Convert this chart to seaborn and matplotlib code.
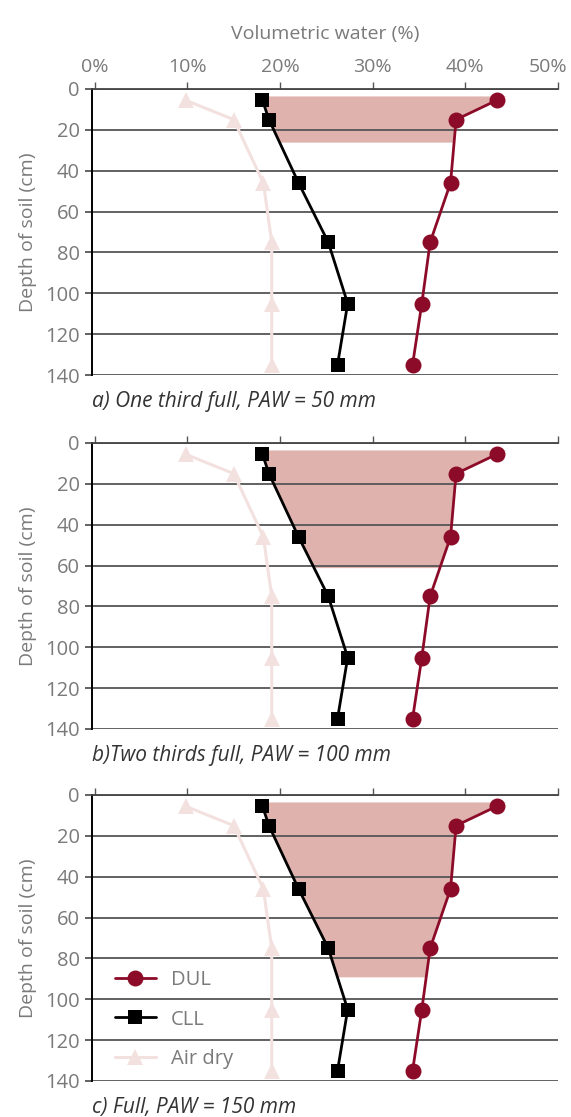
import numpy as np
import pandas as pd
import matplotlib
matplotlib.use("Agg")
import matplotlib.pyplot as plt
import matplotlib.transforms as mtransforms
import seaborn as sns

# soil profile values
depth = [5.5, 15, 46, 75, 105, 135]
dul = [43.4, 39.0, 38.4, 36.2, 35.3, 34.3]
cll = [18.1, 18.8, 22.0, 25.2, 27.3, 26.2]
air_dry = [9.8, 15.0, 18.2, 19.1, 19.1, 19.1]

# plant available water band for each panel
fill_top = 3.4
fill_bottom = [26, 61, 89]
captions = ["a) One third full, PAW = 50 mm",
            "b)Two thirds full, PAW = 100 mm",
            "c) Full, PAW = 150 mm"]

x_ticks = [0, 10, 20, 30, 40, 50]
x_labels = ["0%", "10%", "20%", "30%", "40%", "50%"]
y_ticks = [0, 20, 40, 60, 80, 100, 120, 140]

DUL_COLOR = "#8c0b28"
AIR_COLOR = "#f2e1df"
FILL_COLOR = "#dfb2ae"
GRID_COLOR = "#555555"
TEXT_GRAY = "#7a7a7a"

sns.set_theme(style="white")
plt.rcParams["font.family"] = ["Open Sans", "DejaVu Sans"]


def line_at(d, depths, values):
    """linear interpolation along the profile, extrapolating above the first point"""
    d = np.asarray(d, dtype=float)
    out = np.interp(d, depths, values)
    slope = (values[1] - values[0]) / (depths[1] - depths[0])
    above = d < depths[0]
    out[above] = values[0] + slope * (d[above] - depths[0])
    return out


df = pd.DataFrame({"depth": depth, "DUL": dul, "CLL": cll, "Air dry": air_dry})

fig = plt.figure(figsize=(5.71, 11.17), dpi=100)
lefts = 92 / 571
width = (558 - 92) / 571
panel_tops = [89, 443, 795]
panel_h = 286 / 1117

for i, top in enumerate(panel_tops):
    ax = fig.add_axes([lefts, 1 - top / 1117 - panel_h, width, panel_h])
    ax.set_axisbelow("line")

    dgrid = np.linspace(fill_top, fill_bottom[i], 200)
    ax.fill_betweenx(dgrid, line_at(dgrid, depth, cll), line_at(dgrid, depth, dul),
                     color=FILL_COLOR, lw=0, zorder=1)

    sns.lineplot(data=df, x="DUL", y="depth", sort=False, estimator=None, ax=ax,
                 color=DUL_COLOR, marker="o", markersize=11.5, markeredgewidth=0,
                 linewidth=2, label="DUL", zorder=4)
    sns.lineplot(data=df, x="CLL", y="depth", sort=False, estimator=None, ax=ax,
                 color="black", marker="s", markersize=10, markeredgewidth=0,
                 linewidth=2, label="CLL", zorder=3)
    sns.lineplot(data=df, x="Air dry", y="depth", sort=False, estimator=None, ax=ax,
                 color=AIR_COLOR, marker="^", markersize=12, markeredgewidth=0,
                 linewidth=2.2, label="Air dry", zorder=2)

    ax.set_xlim(-0.3, 50)
    ax.set_ylim(140, 0)
    ax.set_xticks(x_ticks)
    ax.set_yticks(y_ticks)
    ax.xaxis.tick_top()
    ax.grid(axis="y", color=GRID_COLOR, lw=1.3)
    ax.grid(axis="x", visible=False)
    ax.tick_params(axis="x", top=True, bottom=False, direction="out", length=5,
                   width=1, color=GRID_COLOR, labelsize=14, labelcolor=TEXT_GRAY, pad=4)
    ax.tick_params(axis="y", left=True, direction="out", length=5, width=1.3,
                   color=GRID_COLOR, labelsize=14.5, labelcolor=TEXT_GRAY, pad=4)
    if i == 0:
        ax.set_xticklabels(x_labels)
        ax.xaxis.set_label_position("top")
        ax.set_xlabel("Volumetric water (%)", fontsize=14, color=TEXT_GRAY, labelpad=14)
        # pull the last label in so it stays on the canvas
        last = ax.get_xticklabels()[-1]
        last.set_transform(last.get_transform() +
                           mtransforms.ScaledTranslation(-0.1, 0, fig.dpi_scale_trans))
    else:
        ax.set_xticklabels([])
        ax.set_xlabel("")
    ax.set_ylabel("Depth of soil (cm)", fontsize=14, color=TEXT_GRAY, labelpad=6)

    for s in ["right", "bottom"]:
        ax.spines[s].set_visible(False)
    ax.spines["left"].set_color("black")
    ax.spines["left"].set_linewidth(1.4)
    ax.spines["top"].set_color("#444444")
    ax.spines["top"].set_linewidth(1.3)

    if i == 2:
        ax.legend(loc="center left", bbox_to_anchor=(0.05, 0.215), frameon=False,
                  fontsize=14.5, labelcolor=TEXT_GRAY, handlelength=2.0,
                  handletextpad=0.75, labelspacing=0.95, borderpad=0, borderaxespad=0)
    else:
        ax.get_legend().remove()

    fig.text(lefts, 1 - (top + 286 + 26) / 1117, captions[i], fontsize=15,
             style="italic", color="#333333", ha="left", va="center")

fig.savefig("out.png", dpi=100)
